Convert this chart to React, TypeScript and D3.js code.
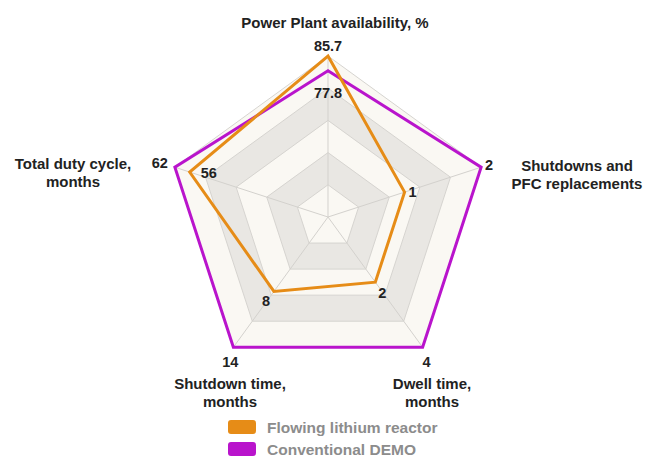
import * as d3 from "d3";

const axes = [
  ["Power Plant availability, %"],
  ["Shutdowns and", "PFC replacements"],
  ["Dwell time,", "months"],
  ["Shutdown time,", "months"],
  ["Total duty cycle,", "months"],
];
const axisMax = [85.7, 2, 4, 14, 62];
const flowingLithium = [85.7, 1, 2, 8, 56];
const conventionalDemo = [77.8, 2, 4, 14, 62];
const seriesNames = ["Flowing lithium reactor", "Conventional DEMO"];
const seriesColors = ["#e68c17", "#b914cc"];

export default function App() {
  const width = 647;
  const height = 459;
  const cx = 328;
  const cy = 217;
  const radius = 161;
  const levels = 5;

  const angle = d3
    .scaleLinear()
    .domain([0, axes.length])
    .range([0, 2 * Math.PI]);
  const scales = axisMax.map((m) => d3.scaleLinear().domain([0, m]).range([0, radius]));

  const pt = (i: number, r: number): [number, number] => [
    cx + r * Math.sin(angle(i)),
    cy - r * Math.cos(angle(i)),
  ];

  const ring = (r: number) =>
    d3.line()(d3.range(axes.length).map((i) => pt(i, r))) + "Z";

  const seriesPath = (vals: number[]) =>
    d3.line()(vals.map((v, i) => pt(i, scales[i](v)))) + "Z";

  const font = "'Liberation Sans', Arial, sans-serif";

  // label offsets from each vertex (dx, dy)
  const lithiumOffsets = [
    [0, -10],
    [8, 0],
    [7, 11],
    [-8, 10],
    [19, 1],
  ];
  const demoOffsets = [
    [0, 22],
    [8, -2],
    [4, 15],
    [-3, 15],
    [-15, -4],
  ];

  const bands = d3.range(levels, 0, -1);

  const axisLabelPos: [number, number, string][] = [
    [335, 22, "middle"],
    [577, 165, "middle"],
    [432, 383, "middle"],
    [230, 383, "middle"],
    [73, 163, "middle"],
  ];

  return (
    <svg
      width={width}
      height={height}
      style={{ position: "absolute", left: 0, top: 0, background: "#fff" }}
      fontFamily={font}
    >
      {bands.map((l) => (
        <path
          key={l}
          d={ring((radius * l) / levels)}
          fill={l % 2 === 1 ? "#faf8f3" : "#e9e7e3"}
          stroke="#d6d4d0"
          strokeWidth={1}
        />
      ))}
      {axes.map((_, i) => {
        const [x, y] = pt(i, radius);
        return <line key={i} x1={cx} y1={cy} x2={x} y2={y} stroke="#d3d1cd" strokeWidth={1} />;
      })}
      <path d={seriesPath(conventionalDemo)} fill="none" stroke={seriesColors[1]} strokeWidth={3} strokeLinejoin="miter" />
      <path d={seriesPath(flowingLithium)} fill="none" stroke={seriesColors[0]} strokeWidth={3} strokeLinejoin="miter" />

      {flowingLithium.map((v, i) => {
        const [x, y] = pt(i, scales[i](v));
        return (
          <text
            key={"f" + i}
            x={x + lithiumOffsets[i][0]}
            y={y + lithiumOffsets[i][1]}
            textAnchor="middle"
            dominantBaseline="central"
            fontSize={14.5}
            fontWeight="bold"
            fill="#222"
          >
            {v}
          </text>
        );
      })}
      {conventionalDemo.map((v, i) => {
        const [x, y] = pt(i, scales[i](v));
        return (
          <text
            key={"c" + i}
            x={x + demoOffsets[i][0]}
            y={y + demoOffsets[i][1]}
            textAnchor="middle"
            dominantBaseline="central"
            fontSize={14.5}
            fontWeight="bold"
            fill="#222"
          >
            {v}
          </text>
        );
      })}

      {axes.map((lines, i) => (
        <text
          key={"a" + i}
          x={axisLabelPos[i][0]}
          y={axisLabelPos[i][1]}
          textAnchor={axisLabelPos[i][2]}
          dominantBaseline="central"
          fontSize={15}
          fontWeight="bold"
          fill="#222"
        >
          {lines.map((t, j) => (
            <tspan key={j} x={axisLabelPos[i][0]} dy={j === 0 ? 0 : 18}>
              {t}
            </tspan>
          ))}
        </text>
      ))}

      {seriesNames.map((n, i) => (
        <g key={n} transform={`translate(228, ${420 + i * 22})`}>
          <rect width={28} height={14} rx={3} fill={seriesColors[i]} />
          <text x={39} y={13} fontSize={15.5} fontWeight="bold" fill="#8c8c8c">
            {n}
          </text>
        </g>
      ))}
    </svg>
  );
}
